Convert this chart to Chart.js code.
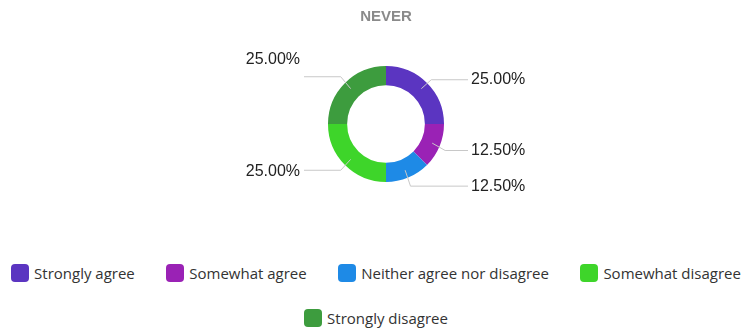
<!DOCTYPE html>
<html>
<head>
<meta charset="utf-8">
<script src="https://cdn.jsdelivr.net/npm/chart.js@4/dist/chart.umd.min.js"></script>
<style>
  html, body { margin: 0; padding: 0; background: #fff; }
  #wrap { position: relative; width: 744px; height: 334px; overflow: hidden; }
  #chartBox { position: absolute; left: 0; top: 0; width: 744px; height: 216px; }
  #legend {
    position: absolute; left: 8px; top: 262px; width: 736px;
    display: flex; flex-wrap: wrap; justify-content: center;
    column-gap: 31.5px; row-gap: 23px;
    font-family: "Open Sans", sans-serif; font-size: 15px; color: #333;
  }
  .item { display: flex; align-items: center; height: 22px; white-space: nowrap; }
  .box { width: 18px; height: 18px; border-radius: 4px; margin-right: 5px; }
</style>
</head>
<body>
<div id="wrap">
  <div id="chartBox"><canvas id="c"></canvas></div>
  <div id="legend"></div>
</div>
<script>
const categories = ["Strongly agree", "Somewhat agree", "Neither agree nor disagree", "Somewhat disagree", "Strongly disagree"];
const shares = [25.00, 12.50, 12.50, 25.00, 25.00];
const sliceColors = ["#5b35c1", "#9a22b5", "#1e8ae6", "#3ed52a", "#3d9c3e"];
const chartTitle = "NEVER";

// Leader lines + percentage labels outside the ring
const outLabels = {
  id: "outLabels",
  afterDatasetsDraw(chart, args, opts) {
    const ctx = chart.ctx;
    const meta = chart.getDatasetMeta(0);
    ctx.save();
    ctx.font = "16px 'Liberation Sans', Arial, sans-serif";
    ctx.textBaseline = "middle";
    meta.data.forEach((arc, i) => {
      const p = arc.getProps(["x", "y", "startAngle", "endAngle", "outerRadius"], true);
      const mid = (p.startAngle + p.endAngle) / 2;
      const cos = Math.cos(mid), sin = Math.sin(mid);
      const right = cos >= 0;
      const sx = p.x + cos * (p.outerRadius - 8), sy = p.y + sin * (p.outerRadius - 8);
      const ex = p.x + cos * (p.outerRadius + 6), ey = p.y + sin * (p.outerRadius + 6) + (opts.lineDy[i] || 0);
      const hx = p.x + (right ? opts.reach : -opts.reach);
      ctx.strokeStyle = "#c8c8c8";
      ctx.lineWidth = 1;
      ctx.beginPath();
      ctx.moveTo(sx, sy);
      ctx.lineTo(ex, ey);
      ctx.lineTo(hx, ey);
      ctx.stroke();
      ctx.fillStyle = "#222";
      ctx.textAlign = right ? "left" : "right";
      const v = chart.data.datasets[0].data[i];
      ctx.fillText(v.toFixed(2) + "%", hx + (right ? 3 : -4), ey + (opts.textDy[i] || 0));
    });
    ctx.restore();
  }
};

const chart = new Chart(document.getElementById("c"), {
  type: "doughnut",
  data: {
    labels: categories,
    datasets: [{
      data: shares,
      backgroundColor: sliceColors,
      borderWidth: 0,
      radius: 58,
      cutout: "67%"
    }]
  },
  options: {
    responsive: true,
    maintainAspectRatio: false,
    animation: false,
    layout: { padding: { left: 28, bottom: 0 } },
    plugins: {
      legend: { display: false },
      tooltip: { enabled: false },
      title: {
        display: true,
        text: chartTitle,
        color: "#8a8a8a",
        font: { family: "'Liberation Sans', Arial, sans-serif", size: 15, weight: "bold" },
        padding: { top: 8, bottom: 6 }
      },
      outLabels: { reach: 82, lineDy: [1, 2, 3, 1, -2], textDy: [0, 0, 0, 1, -17] }
    }
  },
  plugins: [outLabels]
});

// Legend built from the chart's own legend items
const legendEl = document.getElementById("legend");
chart.options.plugins.legend.labels.generateLabels(chart).forEach(item => {
  const el = document.createElement("div");
  el.className = "item";
  const box = document.createElement("span");
  box.className = "box";
  box.style.background = item.fillStyle;
  const txt = document.createElement("span");
  txt.textContent = item.text;
  el.appendChild(box);
  el.appendChild(txt);
  legendEl.appendChild(el);
});
</script>
</body>
</html>
